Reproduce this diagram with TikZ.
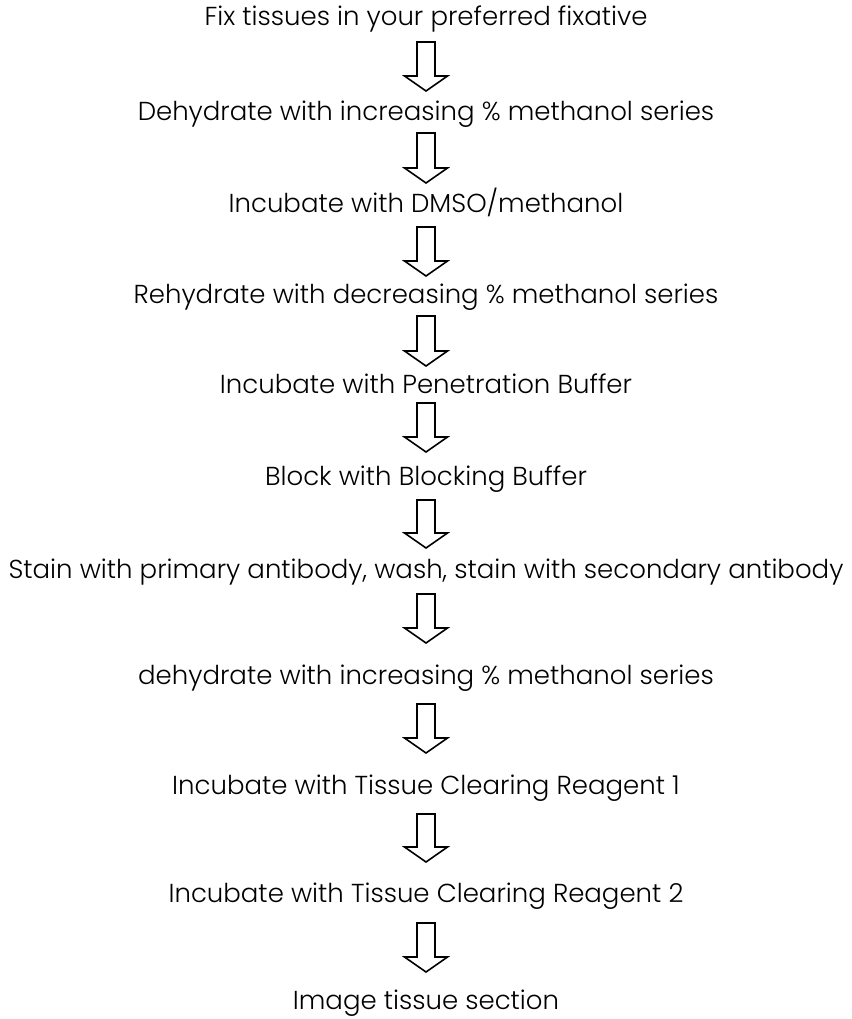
\documentclass[tikz,border=0pt]{standalone}
\usepackage{fontspec}
\setmainfont{Poppins}[UprightFont=* Light]
\usetikzlibrary{calc}
\tikzset{
  steptext/.style={anchor=base, inner sep=0pt, font=\fontsize{26}{30}\selectfont, text=black},
  arrowline/.style={draw=black, fill=white, line width=1.6pt, line join=miter},
}
\newcommand\hollowarrow[2]{%
  \draw[arrowline] ($(#1)+(-9,0)$) -- ($(#1)+(9,0)$) -- ($(#2)+(9,-15)$) -- ($(#2)+(21.5,-15)$)
    -- (#2) -- ($(#2)+(-21.5,-15)$) -- ($(#2)+(-9,-15)$) -- cycle;}
\begin{document}
\begin{tikzpicture}[x=1pt,y=-1pt]
\useasboundingbox (0,0) rectangle (851,1019);
\def\cx{426}
\node[steptext] (s1) at (\cx,25.5) {Fix tissues in your preferred fixative};
\node[steptext] (s2) at (\cx,120.5) {Dehydrate with increasing \% methanol series};
\node[steptext] (s3) at (\cx,212.5) {Incubate with DMSO/methanol};
\node[steptext] (s4) at (\cx,303.5) {Rehydrate with decreasing \% methanol series};
\node[steptext] (s5) at (\cx,393.5) {Incubate with Penetration Buffer};
\node[steptext] (s6) at (\cx,485.5) {Block with Blocking Buffer};
\node[steptext] (s7) at (\cx,578.5) {Stain with primary antibody, wash, stain with secondary antibody};
\node[steptext] (s8) at (\cx,684.5) {dehydrate with increasing \% methanol series};
\node[steptext] (s9) at (\cx,794.5) {Incubate with Tissue Clearing Reagent 1};
\node[steptext] (s10) at (\cx,902.5) {Incubate with Tissue Clearing Reagent 2};
\node[steptext] (s11) at (\cx,1009.5) {Image tissue section};
\coordinate (a1t) at (\cx,42);  \coordinate (a1h) at (\cx,91);
\coordinate (a2t) at (\cx,133); \coordinate (a2h) at (\cx,183);
\coordinate (a3t) at (\cx,227); \coordinate (a3h) at (\cx,276);
\coordinate (a4t) at (\cx,316); \coordinate (a4h) at (\cx,366);
\coordinate (a5t) at (\cx,403); \coordinate (a5h) at (\cx,452);
\coordinate (a6t) at (\cx,500); \coordinate (a6h) at (\cx,548);
\coordinate (a7t) at (\cx,594); \coordinate (a7h) at (\cx,643);
\coordinate (a8t) at (\cx,704); \coordinate (a8h) at (\cx,753);
\coordinate (a9t) at (\cx,814); \coordinate (a9h) at (\cx,862);
\coordinate (a10t) at (\cx,923); \coordinate (a10h) at (\cx,972);
\foreach \i in {1,...,10} {\hollowarrow{a\i t}{a\i h}}
\end{tikzpicture}
\end{document}
